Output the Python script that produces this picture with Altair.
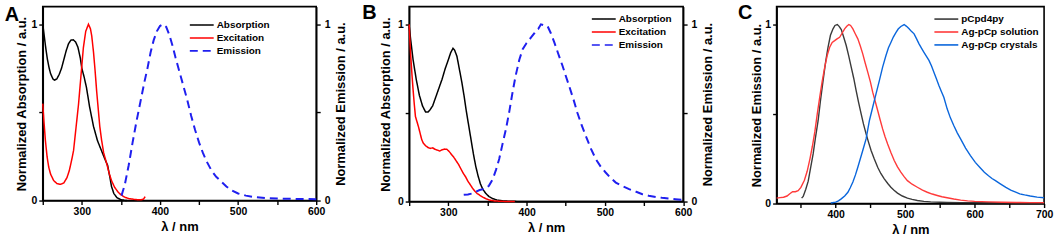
import altair as alt
import pandas as pd

FONT = "Liberation Sans"

# ---------------- Panel A ----------------
A_abs_x = [250, 252, 254, 256, 258, 260, 263, 265, 268, 271, 274, 277, 280, 283, 286, 289, 292, 295, 298, 300,
           303, 306, 310, 315, 320, 325, 330, 333, 336, 338, 341, 345, 350, 355, 358]
A_abs_y = [1.0, 0.93, 0.86, 0.80, 0.755, 0.72, 0.69, 0.683, 0.69, 0.715, 0.75, 0.80, 0.85, 0.89, 0.91, 0.912, 0.90, 0.87, 0.81, 0.75,
           0.70, 0.64, 0.53, 0.42, 0.34, 0.285, 0.23, 0.20, 0.13, 0.08, 0.04, 0.016, 0.005, 0.001, 0.0]
A_exc_x = [250, 251.5, 253.4, 255.5, 257.6, 260, 264, 268, 272.5, 277, 281, 284, 287, 289.4, 292, 295.8, 300, 302, 305, 308.5,
           311, 312.7, 315, 317, 319, 321.2, 323, 325.4, 328, 331.8, 335, 338, 342, 346.6, 350, 355, 360, 368, 375, 379, 381]
A_exc_y = [0.55, 0.45, 0.34, 0.25, 0.19, 0.15, 0.113, 0.097, 0.092, 0.10, 0.13, 0.17, 0.23, 0.283, 0.39, 0.547, 0.765, 0.868, 0.96, 1.0,
           0.975, 0.934, 0.84, 0.736, 0.62, 0.51, 0.42, 0.34, 0.27, 0.21, 0.155, 0.113, 0.075, 0.047, 0.033, 0.019, 0.011, 0.006, 0.004, 0.008, 0.022]
A_em_x = [350.8, 355, 360, 365, 370, 375, 380, 384, 388, 392, 396, 400, 404, 408, 412, 416, 420, 425, 430, 435, 440, 445,
          450, 455, 460, 466, 472, 478, 485, 492, 500, 510, 520, 535, 550, 575, 600]
A_em_y = [0.028, 0.09, 0.20, 0.33, 0.45, 0.56, 0.67, 0.75, 0.84, 0.91, 0.96, 0.99, 1.0, 0.985, 0.94, 0.88, 0.81, 0.73, 0.65, 0.57, 0.48, 0.40,
          0.33, 0.27, 0.22, 0.17, 0.135, 0.11, 0.08, 0.058, 0.04, 0.028, 0.02, 0.014, 0.011, 0.009, 0.008]

# ---------------- Panel B ----------------
B_abs_x = [250, 252, 255, 259, 263, 267, 271, 274, 277, 280, 284, 288, 292, 296, 300, 303, 306, 308, 311, 314, 317, 320,
           323, 326, 329, 332, 335, 338, 341, 344, 348, 352, 357, 362, 369, 377, 386, 400, 450, 500, 550, 600]
B_abs_y = [0.99, 0.91, 0.80, 0.69, 0.60, 0.54, 0.505, 0.505, 0.52, 0.54, 0.59, 0.64, 0.69, 0.75, 0.80, 0.84, 0.865, 0.855, 0.82, 0.75, 0.68, 0.60,
           0.51, 0.43, 0.35, 0.27, 0.20, 0.145, 0.10, 0.07, 0.045, 0.028, 0.016, 0.009, 0.004, 0.002, 0.001, 0.0, 0.0, 0.0, 0.0, 0.0]
B_exc_x = [250, 251, 252, 253.5, 255, 256.5, 258, 260, 262, 264, 266, 268, 271, 274, 277, 280, 283, 286, 289, 292, 295, 298,
           301, 304, 307, 310, 313, 316, 319, 322, 325, 328, 331, 334, 337, 340, 344, 348, 352, 358, 365, 375, 385]
B_exc_y = [1.0, 0.90, 0.82, 0.72, 0.63, 0.55, 0.48, 0.45, 0.42, 0.385, 0.35, 0.33, 0.315, 0.305, 0.30, 0.303, 0.295, 0.29, 0.285, 0.292, 0.296, 0.295,
           0.283, 0.266, 0.25, 0.23, 0.21, 0.185, 0.16, 0.14, 0.115, 0.095, 0.075, 0.058, 0.045, 0.036, 0.025, 0.016, 0.009, 0.004, 0.002, 0.0, 0.0]
B_em_x = [319.7, 325, 330, 335, 340, 345, 348, 352, 356.7, 361, 365, 369, 373.7, 378, 382, 386, 390.7, 395, 400, 405.5, 410, 413,
          415, 418.3, 422, 426.8, 431, 435.3, 440, 446, 450, 454.4, 460, 465, 470, 475.7, 482, 488.4, 495, 501, 507, 514, 522, 531,
          540, 548, 556, 565, 573, 582, 590, 599]
B_em_y = [0.038, 0.04, 0.045, 0.055, 0.065, 0.07, 0.073, 0.09, 0.126, 0.18, 0.24, 0.32, 0.41, 0.51, 0.615, 0.71, 0.80, 0.86, 0.895, 0.925, 0.95, 0.97,
          0.975, 1.0, 0.995, 0.99, 0.95, 0.90, 0.84, 0.765, 0.71, 0.652, 0.575, 0.50, 0.435, 0.37, 0.30, 0.24, 0.195, 0.164, 0.135, 0.107, 0.088, 0.07,
          0.055, 0.041, 0.033, 0.026, 0.021, 0.017, 0.013, 0.009]

# ---------------- Panel C ----------------
C_pc_x = [351, 353.3, 357, 360.5, 364, 367.6, 371, 374.8, 378, 381.9, 385.5, 389, 392.5, 396.2, 399, 402.4, 405, 408.1, 411.5, 415.2,
          418.8, 422.4, 426, 429.5, 433, 436.7, 440, 443.8, 447.5, 451, 455.5, 460.5, 465, 470, 475, 479.5, 484, 489, 496, 503.3,
          510, 517.6, 527, 536.7, 550, 560.5, 580, 620, 660, 700]
C_pc_y = [0.03, 0.04, 0.08, 0.125, 0.2, 0.277, 0.37, 0.464, 0.57, 0.687, 0.79, 0.873, 0.94, 0.976, 0.995, 1.0, 0.99, 0.972, 0.93, 0.883,
          0.825, 0.762, 0.70, 0.631, 0.565, 0.501, 0.445, 0.389, 0.34, 0.296, 0.25, 0.203, 0.168, 0.138, 0.112, 0.091, 0.074, 0.058, 0.042, 0.03,
          0.023, 0.017, 0.012, 0.009, 0.007, 0.006, 0.005, 0.004, 0.004, 0.003]
C_sol_x = [315, 320, 325, 330, 334, 338, 342, 346, 350, 355, 359, 363, 366.5, 370, 373.5, 377.1, 380.5, 384.3, 388, 391.4, 395, 398.6,
           402, 405.7, 409, 412.9, 416, 419, 421.5, 424.8, 428, 431.9, 435.5, 439, 442.5, 446.2, 450, 453.3, 457, 460.5, 464, 467.6,
           471, 474.8, 479.5, 484.3, 489, 493.8, 498.5, 503.3, 510, 517.6, 525, 531.9, 539, 546.2, 553, 560.5, 570, 580, 590, 600,
           620, 640, 660, 680, 700]
C_sol_y = [0.03, 0.033, 0.035, 0.042, 0.055, 0.066, 0.066, 0.072, 0.09, 0.13, 0.18, 0.25, 0.32, 0.40, 0.50, 0.594, 0.68, 0.762, 0.83, 0.873, 0.90, 0.91,
           0.92, 0.929, 0.95, 0.976, 0.99, 1.0, 0.995, 0.976, 0.95, 0.92, 0.88, 0.836, 0.785, 0.734, 0.68, 0.622, 0.57, 0.52, 0.468, 0.417,
           0.375, 0.333, 0.285, 0.24, 0.205, 0.175, 0.15, 0.128, 0.108, 0.091, 0.075, 0.063, 0.053, 0.045, 0.038, 0.032, 0.025, 0.019, 0.015, 0.012,
           0.009, 0.007, 0.006, 0.005, 0.005]
C_cry_x = [393, 400, 404, 408, 413, 417.6, 421, 424.8, 428.5, 431.9, 435.5, 439, 443.8, 448.6, 453.3, 458.1, 462.9, 467.6, 472.4, 476,
           479.5, 483, 486.7, 490, 493.8, 498.6, 502, 505.7, 509, 512.9, 516.5, 520, 523.5, 527.1, 530.7, 534.3, 538, 541.4, 545, 548.6,
           552, 555.7, 560.5, 565, 570, 575, 580, 587, 594, 601, 608, 614, 620, 625, 630, 637, 645, 652, 660, 665, 672, 680, 690, 700]
C_cry_y = [0.003, 0.008, 0.015, 0.026, 0.042, 0.063, 0.088, 0.12, 0.16, 0.203, 0.25, 0.296, 0.361, 0.464, 0.538, 0.613, 0.687, 0.762, 0.827, 0.87,
           0.9, 0.93, 0.955, 0.975, 0.989, 1.0, 0.99, 0.976, 0.962, 0.948, 0.92, 0.892, 0.868, 0.845, 0.822, 0.8, 0.768, 0.734, 0.697, 0.659,
           0.627, 0.594, 0.529, 0.48, 0.436, 0.395, 0.36, 0.31, 0.268, 0.23, 0.2, 0.175, 0.155, 0.14, 0.128, 0.11, 0.09, 0.075, 0.062, 0.054, 0.048, 0.042, 0.036, 0.032]

SERIES_AB = ["Absorption", "Excitation", "Emission"]
COLORS_AB = ["#000000", "#ff0000", "#1f1fef"]
DASH_AB = [[1, 0], [1, 0], [8, 5]]
SERIES_C = ["pCpd4py", "Ag-pCp solution", "Ag-pCp crystals"]
COLORS_C = ["#3a3a3a", "#ff3a3a", "#0a66dc"]

LEGEND_SYMBOL = "M-3.8,0H1"


def frame(pairs):
    rows = []
    for name, xs, ys in pairs:
        for i, (x, y) in enumerate(zip(xs, ys)):
            rows.append({"x": x, "y": y, "series": name, "i": i})
    return pd.DataFrame(rows)


def make_legend(lx, ly):
    return alt.Legend(orient="none", legendX=lx, legendY=ly, title=None, symbolType=LEGEND_SYMBOL,
                      symbolSize=100, symbolStrokeWidth=1.6, labelFontSize=10, labelFont=FONT,
                      labelFontWeight="bold", labelColor="black", rowPadding=2, labelOffset=2, padding=0)


def x_enc(dom, vals):
    return alt.X("x:Q", scale=alt.Scale(domain=dom, nice=False, zero=False),
                 axis=alt.Axis(values=vals, title="λ / nm", labelFlush=False, titlePadding=4,
                               labelExpr="datum.value % 100 == 0 ? format(datum.value, 'd') : ''"))


def y_axis(title, orient="left", tpad=3):
    kw = dict(values=[0, 0.5, 1], title=title, orient=orient, titlePadding=tpad,
              labelExpr="datum.value == 0.5 ? '' : format(datum.value, 'd')")
    if orient == "right":
        kw.update(titleAngle=270, titleBaseline="top", labelPadding=4)
    return alt.Axis(**kw)


def letter_layer(letter, dx, dy):
    return alt.Chart(pd.DataFrame({"t": [letter]})).mark_text(
        font=FONT, fontSize=20, fontWeight="bold", align="left", baseline="alphabetic", color="black"
    ).encode(text="t:N", x=alt.value(dx), y=alt.value(dy))


def panel_ab(letter, dx, dy, abs_x, abs_y, exc_x, exc_y, em_x, em_y, width, height, lx, ly, ltp):
    left = frame([("Absorption", abs_x, abs_y), ("Excitation", exc_x, exc_y)])
    right = frame([("Emission", em_x, em_y)])
    legend = make_legend(lx, ly)
    color = alt.Color("series:N", scale=alt.Scale(domain=SERIES_AB, range=COLORS_AB), legend=legend)
    dash = alt.StrokeDash("series:N", scale=alt.Scale(domain=SERIES_AB, range=DASH_AB), legend=legend)
    xe = x_enc([250, 600], list(range(250, 601, 50)))
    l1 = alt.Chart(left).mark_line(strokeWidth=1.5).encode(
        x=xe,
        y=alt.Y("y:Q", scale=alt.Scale(domain=[0, 1.1], nice=False),
                axis=y_axis("Normalized Absorption / a.u.", tpad=ltp)),
        color=color, strokeDash=dash, order="i:Q")
    l2 = alt.Chart(right).mark_line(strokeWidth=2).encode(
        x=xe,
        y=alt.Y("y:Q", scale=alt.Scale(domain=[0, 1.1], nice=False),
                axis=y_axis("Normalized Emission / a.u.", "right", tpad=5)),
        color=color, strokeDash=dash, order="i:Q")
    return alt.layer(l1, l2, letter_layer(letter, dx, dy)).resolve_scale(y="independent").properties(
        width=width, height=height)


pa = panel_ab("A", -38.3, 14, A_abs_x, A_abs_y, A_exc_x, A_exc_y, A_em_x, A_em_y, 275, 195, 160.9, 12.5, 3)
pb = panel_ab("B", -47.3, 12, B_abs_x, B_abs_y, B_exc_x, B_exc_y, B_em_x, B_em_y, 275.5, 196, 196.7, 6.5, 5)

cdf = frame([("pCpd4py", C_pc_x, C_pc_y), ("Ag-pCp solution", C_sol_x, C_sol_y), ("Ag-pCp crystals", C_cry_x, C_cry_y)])
legC = make_legend(171.7, 6.5)
pc_line = alt.Chart(cdf).mark_line(strokeWidth=1.4).encode(
    x=x_enc([315, 700], list(range(350, 701, 50))),
    y=alt.Y("y:Q", scale=alt.Scale(domain=[0, 1.1], nice=False),
            axis=y_axis("Normalized Emission / a.u.", tpad=1)),
    color=alt.Color("series:N", scale=alt.Scale(domain=SERIES_C, range=COLORS_C), legend=legC),
    order="i:Q")
pc = alt.layer(pc_line, letter_layer("C", -38.7, 12)).properties(width=269, height=198)

chart = alt.hconcat(pa, pb, pc, spacing=93.5, bounds="flush").resolve_scale(
    color="independent", strokeDash="independent"
).resolve_legend(
    color="independent", strokeDash="independent"
).properties(
    padding={"left": 3, "top": 1, "right": 5, "bottom": 2}
).configure(font=FONT).configure_view(
    stroke="black", strokeWidth=1.6
).configure_axis(
    domainColor="black", domainWidth=1.6, tickColor="black", tickWidth=1.4, tickSize=4,
    labelFont=FONT, labelFontSize=10.5, labelFontWeight="bold", labelColor="black", labelPadding=2,
    titleFont=FONT, titleFontSize=13, titleFontWeight="bold", titleColor="black", grid=False
)

chart.save("out.html", embed_options={"renderer": "svg", "actions": False})
